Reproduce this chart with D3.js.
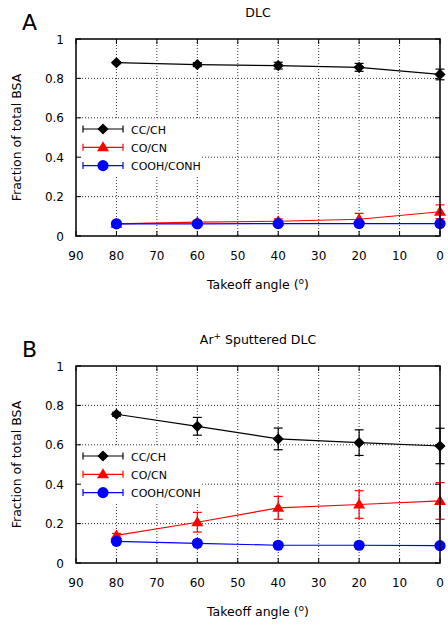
<!DOCTYPE html>
<html><head><meta charset="utf-8">
<script src="https://cdn.jsdelivr.net/npm/d3@7"></script>
<style>body{margin:0;background:#fff}svg{display:block}text{font-family:"DejaVu Sans",Verdana,sans-serif;fill:#000}</style>
</head><body><svg id="c" width="448" height="625"></svg>
<script>
const angles = [80, 60, 40, 20, 0];
const xTicks = [90, 80, 70, 60, 50, 40, 30, 20, 10, 0];
const yTicks = [0, 0.2, 0.4, 0.6, 0.8, 1];
const yTickLabels = ["0", "0.2", "0.4", "0.6", "0.8", "1"];
const seriesNames = ["CC/CH", "CO/CN", "COOH/CONH"];
const seriesColors = ["#000000", "#ff0000", "#0000ff"];
const seriesShapes = ["diamond", "triangle", "circle"];

const dlcCC = [0.88, 0.87, 0.865, 0.856, 0.82];
const dlcCCErr = [0.005, 0.01, 0.017, 0.02, 0.027];
const dlcCO = [0.062, 0.07, 0.075, 0.085, 0.123];
const dlcCOErr = [0.005, 0.008, 0.012, 0.03, 0.035];
const dlcCOOH = [0.062, 0.062, 0.063, 0.063, 0.063];
const dlcCOOHErr = [0.004, 0.004, 0.004, 0.004, 0.004];

const arCC = [0.755, 0.694, 0.63, 0.611, 0.594];
const arCCErr = [0.01, 0.045, 0.055, 0.065, 0.09];
const arCO = [0.14, 0.207, 0.28, 0.297, 0.315];
const arCOErr = [0.01, 0.05, 0.058, 0.07, 0.093];
const arCOOH = [0.11, 0.1, 0.09, 0.09, 0.088];
const arCOOHErr = [0.004, 0.004, 0.004, 0.004, 0.004];

const panels = [
  {letter: "A", title: [["DLC", false]], top: 39, bottom: 236,
   series: [[dlcCC, dlcCCErr], [dlcCO, dlcCOErr], [dlcCOOH, dlcCOOHErr]]},
  {letter: "B", title: [["Ar", false], ["+", true], [" Sputtered DLC", false]], top: 366, bottom: 563,
   series: [[arCC, arCCErr], [arCO, arCOErr], [arCOOH, arCOOHErr]]}
];

const svg = d3.select("#c");
const L = 76, R = 440;

function marker(sel, shape, color, cx, cy) {
  if (shape === "circle") {
    sel.append("circle").attr("cx", cx).attr("cy", cy).attr("r", 5.6).attr("fill", color);
  } else if (shape === "diamond") {
    const s = 5.6;
    sel.append("path").attr("d", `M${cx},${cy - s}L${cx + s},${cy}L${cx},${cy + s}L${cx - s},${cy}Z`).attr("fill", color);
  } else {
    const w = 6, h = 10;
    sel.append("path").attr("d", `M${cx},${cy - h * 0.6}L${cx + w},${cy + h * 0.4}L${cx - w},${cy + h * 0.4}Z`).attr("fill", color);
  }
}

panels.forEach(p => {
  const x = d3.scaleLinear().domain([90, 0]).range([L, R]);
  const y = d3.scaleLinear().domain([0, 1]).range([p.bottom, p.top]);
  const g = svg.append("g");

  g.append("g").selectAll("line").data(xTicks.slice(1, -1)).join("line")
    .attr("x1", d => x(d)).attr("x2", d => x(d)).attr("y1", p.top).attr("y2", p.bottom)
    .attr("stroke", "#333").attr("stroke-width", 1).attr("stroke-dasharray", "1,2");
  g.append("g").selectAll("line").data(yTicks.slice(1, -1)).join("line")
    .attr("y1", d => y(d)).attr("y2", d => y(d)).attr("x1", L).attr("x2", R)
    .attr("stroke", "#333").attr("stroke-width", 1).attr("stroke-dasharray", "1,2");

  g.append("rect").attr("x", L + 1).attr("y", p.top + 80).attr("width", 125).attr("height", 57).attr("fill", "#fff");

  const tl = 5;
  xTicks.forEach(t => {
    g.append("line").attr("x1", x(t)).attr("x2", x(t)).attr("y1", p.bottom).attr("y2", p.bottom - tl).attr("stroke", "#000");
    g.append("line").attr("x1", x(t)).attr("x2", x(t)).attr("y1", p.top).attr("y2", p.top + tl).attr("stroke", "#000");
  });
  yTicks.forEach(t => {
    g.append("line").attr("x1", L).attr("x2", L + tl).attr("y1", y(t)).attr("y2", y(t)).attr("stroke", "#000");
    g.append("line").attr("x1", R).attr("x2", R - tl).attr("y1", y(t)).attr("y2", y(t)).attr("stroke", "#000");
  });

  g.append("g").selectAll("text").data(xTicks).join("text")
    .attr("x", d => x(d)).attr("y", p.bottom + 24).attr("text-anchor", "middle")
    .attr("font-size", 12).text(d => d);
  g.append("g").selectAll("text").data(yTicks).join("text")
    .attr("x", 64).attr("y", d => y(d) + 4.5).attr("text-anchor", "end")
    .attr("font-size", 12).text((d, i) => yTickLabels[i]);

  p.series.forEach((s, si) => {
    const vals = s[0], errs = s[1], col = seriesColors[si];
    const pts = angles.map((a, i) => [x(a), y(vals[i])]);
    g.append("path").attr("d", d3.line()(pts)).attr("fill", "none").attr("stroke", col).attr("stroke-width", 1.2);
    angles.forEach((a, i) => {
      const cx = x(a), y1 = y(vals[i] + errs[i]), y2 = y(vals[i] - errs[i]);
      g.append("line").attr("x1", cx).attr("x2", cx).attr("y1", y1).attr("y2", y2).attr("stroke", col).attr("stroke-width", 1.2);
      g.append("line").attr("x1", cx - 4.5).attr("x2", cx + 4.5).attr("y1", y1).attr("y2", y1).attr("stroke", col).attr("stroke-width", 1.2);
      g.append("line").attr("x1", cx - 4.5).attr("x2", cx + 4.5).attr("y1", y2).attr("y2", y2).attr("stroke", col).attr("stroke-width", 1.2);
      marker(g, seriesShapes[si], col, cx, y(vals[i]));
    });
  });

  seriesNames.forEach((n, i) => {
    const ly = p.top + 90 + i * 18.3, col = seriesColors[i];
    g.append("line").attr("x1", 83).attr("x2", 123).attr("y1", ly).attr("y2", ly).attr("stroke", col).attr("stroke-width", 1.2);
    [83, 123].forEach(xx => g.append("line").attr("x1", xx).attr("x2", xx).attr("y1", ly - 3.5).attr("y2", ly + 3.5).attr("stroke", col).attr("stroke-width", 1.2));
    marker(g, seriesShapes[i], col, 103, ly);
    g.append("text").attr("x", 131).attr("y", ly + 4.5).attr("font-size", 11).text(n);
  });

  g.append("rect").attr("x", L).attr("y", p.top).attr("width", R - L).attr("height", p.bottom - p.top)
    .attr("fill", "none").attr("stroke", "#000").attr("stroke-width", 1.5);

  const t = g.append("text").attr("x", (L + R) / 2).attr("y", p.top - 22).attr("text-anchor", "middle").attr("font-size", 12.5);
  p.title.forEach(([s, sup], k) => {
    const ts = t.append("tspan").text(s);
    if (sup) ts.attr("font-size", 9).attr("dy", -5);
    else if (k > 0) ts.attr("dy", 5);
  });

  g.append("text").attr("x", 22).attr("y", p.top - 9).attr("font-size", 22).text(p.letter);

  const xl = g.append("text").attr("x", (L + R) / 2).attr("y", p.bottom + 53).attr("text-anchor", "middle").attr("font-size", 12.5);
  xl.append("tspan").text("Takeoff angle (");
  xl.append("tspan").attr("font-size", 9).attr("dy", -5).text("o");
  xl.append("tspan").attr("dy", 5).text(")");

  g.append("text").attr("transform", `translate(21,${(p.top + p.bottom) / 2}) rotate(-90)`)
    .attr("text-anchor", "middle").attr("font-size", 12.5).text("Fraction of total BSA");
});
</script></body></html>
